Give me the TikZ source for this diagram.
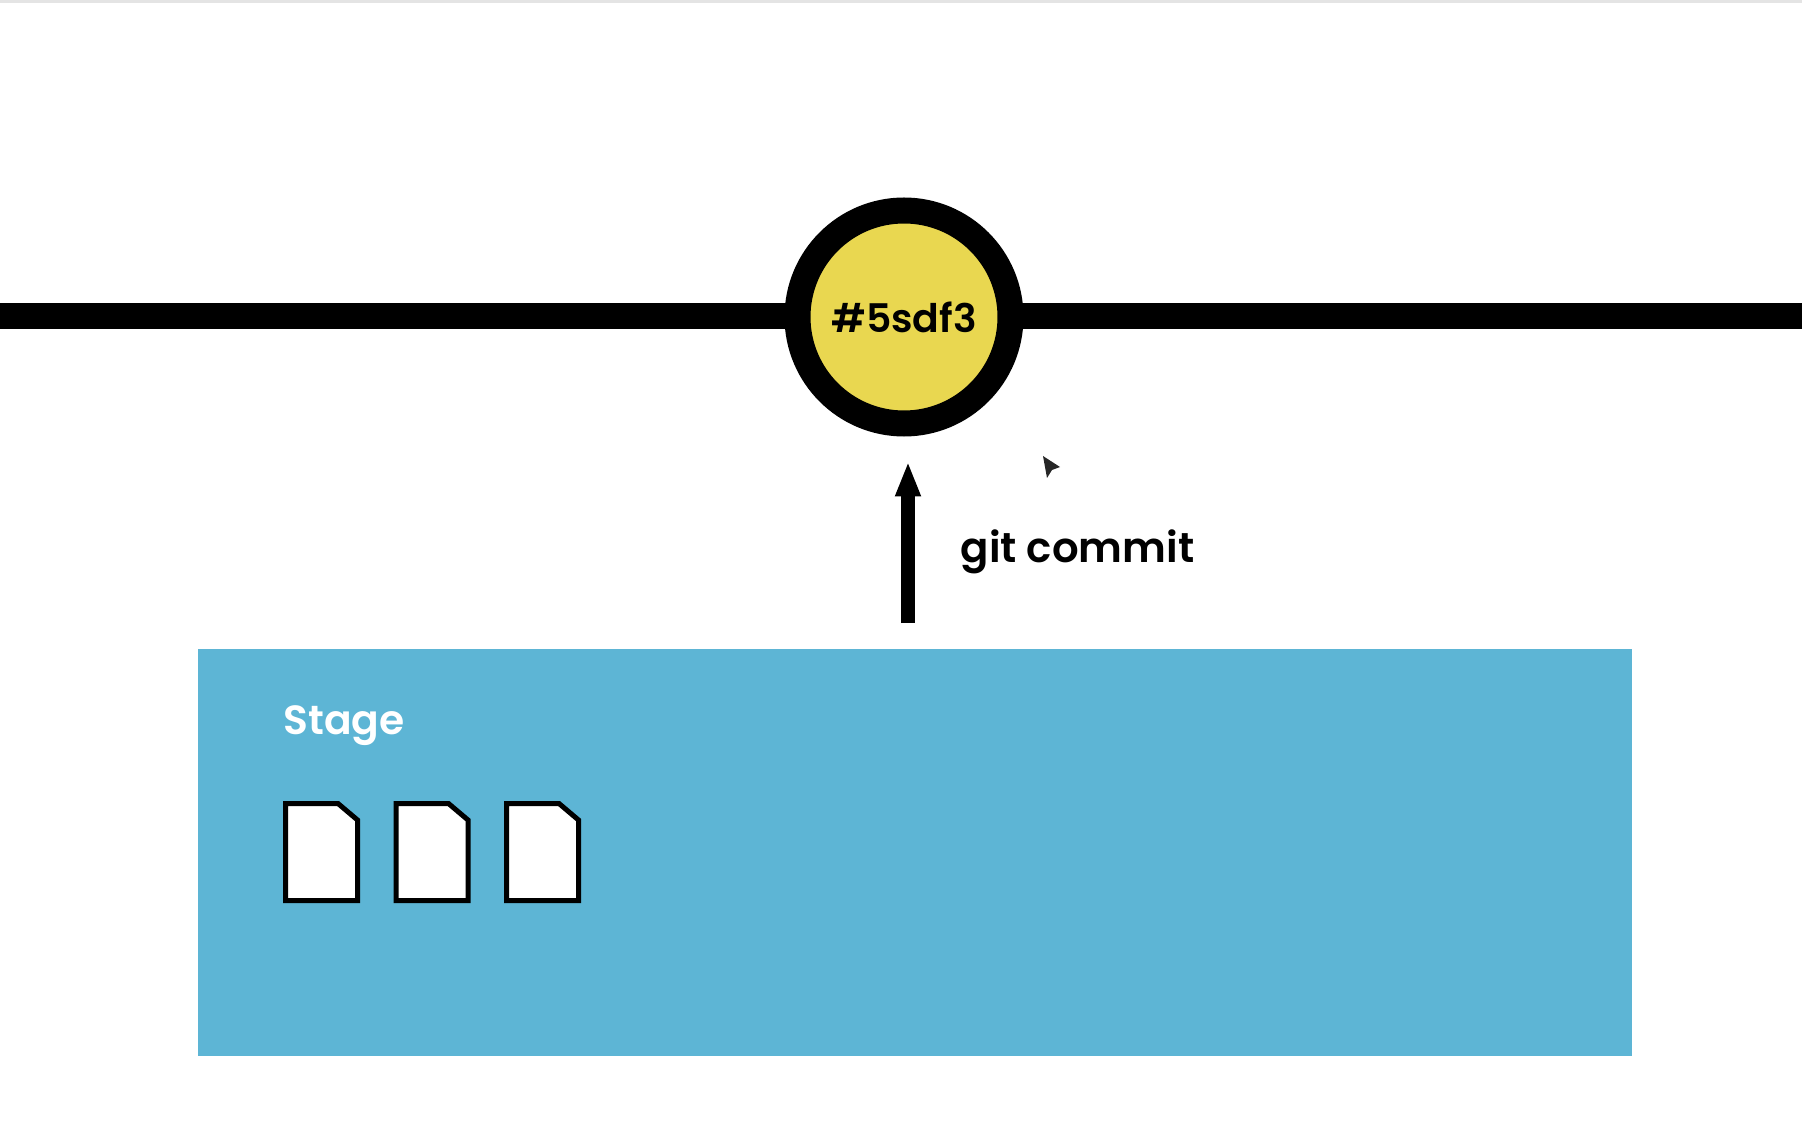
\documentclass[tikz,border=0pt]{standalone}
\usepackage{xcolor}
\usepackage{fontspec}
\setmainfont{Poppins}[BoldFont={Poppins SemiBold}]
\definecolor{gitblue}{HTML}{5DB5D5}
\definecolor{gityellow}{HTML}{E9D750}
\definecolor{topband}{HTML}{E4E4E4}
\usetikzlibrary{arrows.meta, positioning, calc}

\begin{document}
\begin{tikzpicture}[
    x=0.1mm, y=-0.1mm,
    commit/.style={circle, draw=black, line width=2.6mm, fill=gityellow, inner sep=0pt, minimum size=21.3mm, font=\fontsize{11.2}{13}\selectfont\bfseries},
    stagebox/.style={rectangle, fill=gitblue, inner sep=0pt, outer sep=0pt, minimum width=143.4mm, minimum height=40.7mm},
    timeline/.style={line width=2.6mm},
    flow/.style={line width=1.4mm, -{Triangle[length=3.5mm, width=2.35mm]}, shorten >=2.5mm, shorten <=2.6mm},
    docfile/.style={draw=black, fill=white, line width=0.5mm, line join=miter},
    label/.style={font=\fontsize{11.9}{14}\selectfont\bfseries, inner sep=0pt}
]

\useasboundingbox (0,0) rectangle (1802,1134);
\fill[topband] (0,0) rectangle (1802,3);

\node[commit] (commit) at (904,317) {\raisebox{-0.2mm}{\#5sdf3}};
\coordinate (lineleft) at (0,316);
\coordinate (lineright) at (1802,316);
\node[stagebox] (stage) at (915,852.5) {};
\node[label, font=\fontsize{11.6}{14}\selectfont\bfseries, text=white, anchor=base west] (stagename) at (283,734) {Stage};
\node[label, anchor=base west] (commitname) at (960,563) {git commit};
\coordinate (flowline) at (908,0);

\draw[timeline] (lineleft) -- ([xshift=1mm]lineleft -| commit.west);
\draw[timeline] ([xshift=-1mm]lineright -| commit.east) -- (lineright);
\draw[flow] (stage.north -| flowline) -- (commit.south -| flowline);

% three files
\foreach \x in {0,110.5,221} {
    \draw[docfile, xshift=\x*0.1mm] (285.5,803.5) -- (338,803.5) -- (357.5,820) -- (357.5,900.5) -- (285.5,900.5) -- cycle;
}

% mouse pointer
\fill[black!85] (1043,456) -- (1060,467) -- (1052,470) -- (1047,478) -- cycle;

\end{tikzpicture}
\end{document}
